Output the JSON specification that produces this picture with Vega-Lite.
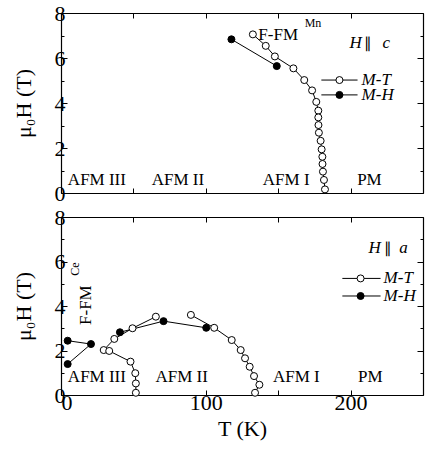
{
  "$schema": "https://vega.github.io/schema/vega-lite/v6.json",
  "padding": {"left": 12, "right": 1, "top": 2, "bottom": 2},
  "spacing": 24,
  "bounds": "flush",
  "config": {
    "font": "Liberation Serif",
    "view": {"stroke": null},
    "axis": {
      "grid": false,
      "domainColor": "black",
      "domainWidth": 1.2,
      "tickColor": "black",
      "tickWidth": 1,
      "labelColor": "black",
      "titleColor": "black",
      "labelFont": "Liberation Serif",
      "titleFont": "Liberation Serif",
      "labelFontSize": 22,
      "titleFontSize": 22,
      "titleFontWeight": "normal"
    }
  },
  "datasets": {
    "pts": [
      {"panel": "c", "series": "c_mt", "kind": "MT", "ord": 1, "T": 132.5, "H": 7.05},
      {"panel": "c", "series": "c_mt", "kind": "MT", "ord": 2, "T": 141.4, "H": 6.54},
      {"panel": "c", "series": "c_mt", "kind": "MT", "ord": 3, "T": 147.7, "H": 6.07},
      {"panel": "c", "series": "c_mt", "kind": "MT", "ord": 4, "T": 160.5, "H": 5.54},
      {"panel": "c", "series": "c_mt", "kind": "MT", "ord": 5, "T": 168.0, "H": 5.02},
      {"panel": "c", "series": "c_mt", "kind": "MT", "ord": 6, "T": 173.4, "H": 4.56},
      {"panel": "c", "series": "c_mt", "kind": "MT", "ord": 7, "T": 176.3, "H": 4.05},
      {"panel": "c", "series": "c_mt", "kind": "MT", "ord": 8, "T": 177.7, "H": 3.66},
      {"panel": "c", "series": "c_mt", "kind": "MT", "ord": 9, "T": 177.7, "H": 3.36},
      {"panel": "c", "series": "c_mt", "kind": "MT", "ord": 10, "T": 177.8, "H": 3.02},
      {"panel": "c", "series": "c_mt", "kind": "MT", "ord": 11, "T": 178.1, "H": 2.68},
      {"panel": "c", "series": "c_mt", "kind": "MT", "ord": 12, "T": 179.3, "H": 2.32},
      {"panel": "c", "series": "c_mt", "kind": "MT", "ord": 13, "T": 180.0, "H": 1.94},
      {"panel": "c", "series": "c_mt", "kind": "MT", "ord": 14, "T": 180.5, "H": 1.61},
      {"panel": "c", "series": "c_mt", "kind": "MT", "ord": 15, "T": 180.6, "H": 1.29},
      {"panel": "c", "series": "c_mt", "kind": "MT", "ord": 16, "T": 180.9, "H": 0.95},
      {"panel": "c", "series": "c_mt", "kind": "MT", "ord": 17, "T": 181.6, "H": 0.58},
      {"panel": "c", "series": "c_mt", "kind": "MT", "ord": 18, "T": 182.3, "H": 0.16},
      {"panel": "c", "series": "c_mh", "kind": "MH", "ord": 1, "T": 117.7, "H": 6.83},
      {"panel": "c", "series": "c_mh", "kind": "MH", "ord": 2, "T": 149.0, "H": 5.64},
      {"panel": "a", "series": "a_mt1", "kind": "MT", "ord": 1, "T": 65.5, "H": 3.52},
      {"panel": "a", "series": "a_mt1", "kind": "MT", "ord": 2, "T": 49.4, "H": 3.0},
      {"panel": "a", "series": "a_mt1", "kind": "MT", "ord": 3, "T": 36.8, "H": 2.52},
      {"panel": "a", "series": "a_mt1", "kind": "MT", "ord": 4, "T": 29.5, "H": 2.02},
      {"panel": "a", "series": "a_mt1", "kind": "MT", "ord": 5, "T": 33.3, "H": 1.98},
      {"panel": "a", "series": "a_mt1", "kind": "MT", "ord": 6, "T": 48.0, "H": 1.5},
      {"panel": "a", "series": "a_mt1", "kind": "MT", "ord": 7, "T": 51.3, "H": 0.98},
      {"panel": "a", "series": "a_mt1", "kind": "MT", "ord": 8, "T": 51.7, "H": 0.52},
      {"panel": "a", "series": "a_mt1", "kind": "MT", "ord": 9, "T": 51.7, "H": 0.1},
      {"panel": "a", "series": "a_mt2", "kind": "MT", "ord": 1, "T": 89.7, "H": 3.6},
      {"panel": "a", "series": "a_mt2", "kind": "MT", "ord": 2, "T": 105.8, "H": 3.02},
      {"panel": "a", "series": "a_mt2", "kind": "MT", "ord": 3, "T": 117.9, "H": 2.47},
      {"panel": "a", "series": "a_mt2", "kind": "MT", "ord": 4, "T": 124.1, "H": 2.02},
      {"panel": "a", "series": "a_mt2", "kind": "MT", "ord": 5, "T": 127.1, "H": 1.65},
      {"panel": "a", "series": "a_mt2", "kind": "MT", "ord": 6, "T": 130.3, "H": 1.27},
      {"panel": "a", "series": "a_mt2", "kind": "MT", "ord": 7, "T": 133.3, "H": 0.85},
      {"panel": "a", "series": "a_mt2", "kind": "MT", "ord": 8, "T": 137.0, "H": 0.46},
      {"panel": "a", "series": "a_mt2", "kind": "MT", "ord": 9, "T": 134.0, "H": 0.1},
      {"panel": "a", "series": "a_mh1", "kind": "MH", "ord": 1, "T": 40.7, "H": 2.82},
      {"panel": "a", "series": "a_mh1", "kind": "MH", "ord": 2, "T": 70.8, "H": 3.32},
      {"panel": "a", "series": "a_mh1", "kind": "MH", "ord": 3, "T": 100.3, "H": 3.02},
      {"panel": "a", "series": "a_mh2", "kind": "MH", "ord": 1, "T": 4.6, "H": 2.44},
      {"panel": "a", "series": "a_mh2", "kind": "MH", "ord": 2, "T": 20.7, "H": 2.29},
      {"panel": "a", "series": "a_mh2", "kind": "MH", "ord": 3, "T": 4.6, "H": 1.39}
    ],
    "leg": [
      {"panel": "c", "kind": "MT", "T": 179.8, "T2": 204.8, "Tm": 192.3, "H": 5.02, "text": "M-T", "Tt": 207.6},
      {"panel": "c", "kind": "MH", "T": 179.8, "T2": 204.8, "Tm": 192.3, "H": 4.36, "text": "M-H", "Tt": 207.6},
      {"panel": "a", "kind": "MT", "T": 194.3, "T2": 220.7, "Tm": 206.9, "H": 5.24, "text": "M-T", "Tt": 222.8},
      {"panel": "a", "kind": "MH", "T": 194.3, "T2": 220.7, "Tm": 206.9, "H": 4.45, "text": "M-H", "Tt": 222.8}
    ],
    "labels": [
      {"panel": "c", "role": "phase", "T": 24.8, "H": 0.58, "text": "AFM III"},
      {"panel": "c", "role": "phase", "T": 80.7, "H": 0.58, "text": "AFM II"},
      {"panel": "c", "role": "phase", "T": 155.5, "H": 0.58, "text": "AFM I"},
      {"panel": "c", "role": "phase", "T": 213.0, "H": 0.58, "text": "PM"},
      {"panel": "c", "role": "ffm", "T": 136.3, "H": 7.02, "text": "F-FM"},
      {"panel": "c", "role": "sup", "T": 168.3, "H": 7.56, "text": "Mn"},
      {"panel": "c", "role": "lit", "T": 203.4, "H": 6.67, "text": "H"},
      {"panel": "c", "role": "lpar", "T": 211.7, "H": 6.67, "text": "∥"},
      {"panel": "c", "role": "lit", "T": 224.6, "H": 6.67, "text": "c"},
      {"panel": "a", "role": "phase", "T": 24.8, "H": 0.82, "text": "AFM III"},
      {"panel": "a", "role": "phase", "T": 83.3, "H": 0.82, "text": "AFM II"},
      {"panel": "a", "role": "phase", "T": 162.5, "H": 0.82, "text": "AFM I"},
      {"panel": "a", "role": "phase", "T": 213.6, "H": 0.82, "text": "PM"},
      {"panel": "a", "role": "ffmr", "T": 17.2, "H": 4.04, "text": "F-FM"},
      {"panel": "a", "role": "supr", "T": 9.7, "H": 5.66, "text": "Ce"},
      {"panel": "a", "role": "lit", "T": 216.6, "H": 6.61, "text": "H"},
      {"panel": "a", "role": "lpar", "T": 225.9, "H": 6.61, "text": "∥"},
      {"panel": "a", "role": "lit", "T": 236.6, "H": 6.61, "text": "a"}
    ]
  },
  "vconcat": [
    {
      "width": 362,
      "height": 180,
      "resolve": {"axis": {"x": "independent", "y": "independent"}},
      "layer": [
        {
          "data": {"name": "pts"},
          "transform": [{"filter": "datum.panel === 'c'"}],
          "mark": {"type": "line", "color": "black", "strokeWidth": 1},
          "encoding": {
            "x": {"field": "T", "type": "quantitative", "scale": {"domain": [0, 250], "nice": false},
              "axis": {"orient": "bottom", "values": [0, 50, 100, 150, 200, 250], "labels": false, "title": null, "tickSize": -5}},
            "y": {"field": "H", "type": "quantitative", "scale": {"domain": [0, 8], "nice": false},
              "axis": {"orient": "left", "values": [0, 1, 2, 3, 4, 5, 6, 7, 8], "labelExpr": "datum.value % 2 === 0 ? datum.label : ''",
                "tickSize": {"condition": {"test": "datum.value % 2 === 0", "value": -6}, "value": -3},
                "labelPadding": 2, "title": "μ₀H (T)", "titlePadding": 19}},
            "detail": {"field": "series"},
            "order": {"field": "ord"}
          }
        },
        {
          "data": {"name": "pts"},
          "transform": [{"filter": "datum.panel === 'c'"}],
          "mark": {"type": "point", "shape": "circle", "filled": true, "size": 49, "stroke": "black", "strokeWidth": 1, "opacity": 1},
          "encoding": {
            "x": {"field": "T", "type": "quantitative",
              "axis": {"orient": "top", "values": [0, 50, 100, 150, 200, 250], "labels": false, "title": null, "tickSize": -5}},
            "y": {"field": "H", "type": "quantitative",
              "axis": {"orient": "right", "values": [0, 1, 2, 3, 4, 5, 6, 7, 8], "labels": false, "title": null,
                "tickSize": {"condition": {"test": "datum.value % 2 === 0", "value": -6}, "value": -3}}},
            "fill": {"field": "kind", "type": "nominal", "scale": {"domain": ["MT", "MH"], "range": ["white", "black"]}, "legend": null}
          }
        },
        {
          "data": {"name": "leg"},
          "transform": [{"filter": "datum.panel === 'c'"}],
          "mark": {"type": "rule", "color": "black", "strokeWidth": 1},
          "encoding": {
            "x": {"field": "T", "type": "quantitative", "axis": null},
            "x2": {"field": "T2"},
            "y": {"field": "H", "type": "quantitative", "axis": null}
          }
        },
        {
          "data": {"name": "leg"},
          "transform": [{"filter": "datum.panel === 'c'"}],
          "mark": {"type": "point", "shape": "circle", "filled": true, "size": 49, "stroke": "black", "strokeWidth": 1, "opacity": 1},
          "encoding": {
            "x": {"field": "Tm", "type": "quantitative", "axis": null},
            "y": {"field": "H", "type": "quantitative", "axis": null},
            "fill": {"field": "kind", "type": "nominal", "legend": null}
          }
        },
        {
          "data": {"name": "leg"},
          "transform": [{"filter": "datum.panel === 'c'"}],
          "mark": {"type": "text", "align": "left", "baseline": "middle", "fontSize": 17, "fontStyle": "italic", "color": "black"},
          "encoding": {
            "x": {"field": "Tt", "type": "quantitative", "axis": null},
            "y": {"field": "H", "type": "quantitative", "axis": null},
            "text": {"field": "text"}
          }
        },
        {
          "data": {"name": "labels"},
          "transform": [{"filter": "datum.panel === 'c' && datum.role === 'phase'"}],
          "mark": {"type": "text", "align": "center", "baseline": "middle", "fontSize": 17, "color": "black"},
          "encoding": {
            "x": {"field": "T", "type": "quantitative", "axis": null},
            "y": {"field": "H", "type": "quantitative", "axis": null},
            "text": {"field": "text"}
          }
        },
        {
          "data": {"name": "labels"},
          "transform": [{"filter": "datum.panel === 'c' && datum.role === 'ffm'"}],
          "mark": {"type": "text", "align": "left", "baseline": "middle", "fontSize": 17, "color": "black"},
          "encoding": {
            "x": {"field": "T", "type": "quantitative", "axis": null},
            "y": {"field": "H", "type": "quantitative", "axis": null},
            "text": {"field": "text"}
          }
        },
        {
          "data": {"name": "labels"},
          "transform": [{"filter": "datum.panel === 'c' && datum.role === 'sup'"}],
          "mark": {"type": "text", "align": "left", "baseline": "middle", "fontSize": 12, "color": "black"},
          "encoding": {
            "x": {"field": "T", "type": "quantitative", "axis": null},
            "y": {"field": "H", "type": "quantitative", "axis": null},
            "text": {"field": "text"}
          }
        },
        {
          "data": {"name": "labels"},
          "transform": [{"filter": "datum.panel === 'c' && datum.role === 'lit'"}],
          "mark": {"type": "text", "align": "center", "baseline": "middle", "fontSize": 17, "fontStyle": "italic", "color": "black"},
          "encoding": {
            "x": {"field": "T", "type": "quantitative", "axis": null},
            "y": {"field": "H", "type": "quantitative", "axis": null},
            "text": {"field": "text"}
          }
        },
        {
          "data": {"name": "labels"},
          "transform": [{"filter": "datum.panel === 'c' && datum.role === 'lpar'"}],
          "mark": {"type": "text", "align": "center", "baseline": "middle", "fontSize": 15, "color": "black"},
          "encoding": {
            "x": {"field": "T", "type": "quantitative", "axis": null},
            "y": {"field": "H", "type": "quantitative", "axis": null},
            "text": {"field": "text"}
          }
        }
      ]
    },
    {
      "width": 362,
      "height": 178,
      "resolve": {"axis": {"x": "independent", "y": "independent"}},
      "layer": [
        {
          "data": {"name": "pts"},
          "transform": [{"filter": "datum.panel === 'a'"}],
          "mark": {"type": "line", "color": "black", "strokeWidth": 1},
          "encoding": {
            "x": {"field": "T", "type": "quantitative", "scale": {"domain": [0, 250], "nice": false},
              "axis": {"orient": "bottom", "values": [0, 50, 100, 150, 200, 250], "labelExpr": "datum.value % 100 === 0 ? datum.label : ''",
                "tickSize": -5, "labelPadding": 2, "title": "T (K)", "titlePadding": 5}},
            "y": {"field": "H", "type": "quantitative", "scale": {"domain": [0, 8], "nice": false},
              "axis": {"orient": "left", "values": [0, 1, 2, 3, 4, 5, 6, 7, 8], "labelExpr": "datum.value % 2 === 0 ? datum.label : ''",
                "tickSize": {"condition": {"test": "datum.value % 2 === 0", "value": -6}, "value": -3},
                "labelPadding": 2, "title": "μ₀H (T)", "titlePadding": 19}},
            "detail": {"field": "series"},
            "order": {"field": "ord"}
          }
        },
        {
          "data": {"name": "pts"},
          "transform": [{"filter": "datum.panel === 'a'"}],
          "mark": {"type": "point", "shape": "circle", "filled": true, "size": 49, "stroke": "black", "strokeWidth": 1, "opacity": 1},
          "encoding": {
            "x": {"field": "T", "type": "quantitative",
              "axis": {"orient": "top", "values": [0, 50, 100, 150, 200, 250], "labels": false, "title": null, "tickSize": -5}},
            "y": {"field": "H", "type": "quantitative",
              "axis": {"orient": "right", "values": [0, 1, 2, 3, 4, 5, 6, 7, 8], "labels": false, "title": null,
                "tickSize": {"condition": {"test": "datum.value % 2 === 0", "value": -6}, "value": -3}}},
            "fill": {"field": "kind", "type": "nominal", "scale": {"domain": ["MT", "MH"], "range": ["white", "black"]}, "legend": null}
          }
        },
        {
          "data": {"name": "leg"},
          "transform": [{"filter": "datum.panel === 'a'"}],
          "mark": {"type": "rule", "color": "black", "strokeWidth": 1},
          "encoding": {
            "x": {"field": "T", "type": "quantitative", "axis": null},
            "x2": {"field": "T2"},
            "y": {"field": "H", "type": "quantitative", "axis": null}
          }
        },
        {
          "data": {"name": "leg"},
          "transform": [{"filter": "datum.panel === 'a'"}],
          "mark": {"type": "point", "shape": "circle", "filled": true, "size": 49, "stroke": "black", "strokeWidth": 1, "opacity": 1},
          "encoding": {
            "x": {"field": "Tm", "type": "quantitative", "axis": null},
            "y": {"field": "H", "type": "quantitative", "axis": null},
            "fill": {"field": "kind", "type": "nominal", "legend": null}
          }
        },
        {
          "data": {"name": "leg"},
          "transform": [{"filter": "datum.panel === 'a'"}],
          "mark": {"type": "text", "align": "left", "baseline": "middle", "fontSize": 17, "fontStyle": "italic", "color": "black"},
          "encoding": {
            "x": {"field": "Tt", "type": "quantitative", "axis": null},
            "y": {"field": "H", "type": "quantitative", "axis": null},
            "text": {"field": "text"}
          }
        },
        {
          "data": {"name": "labels"},
          "transform": [{"filter": "datum.panel === 'a' && datum.role === 'phase'"}],
          "mark": {"type": "text", "align": "center", "baseline": "middle", "fontSize": 17, "color": "black"},
          "encoding": {
            "x": {"field": "T", "type": "quantitative", "axis": null},
            "y": {"field": "H", "type": "quantitative", "axis": null},
            "text": {"field": "text"}
          }
        },
        {
          "data": {"name": "labels"},
          "transform": [{"filter": "datum.panel === 'a' && datum.role === 'ffmr'"}],
          "mark": {"type": "text", "align": "center", "baseline": "middle", "fontSize": 17, "angle": 270, "color": "black"},
          "encoding": {
            "x": {"field": "T", "type": "quantitative", "axis": null},
            "y": {"field": "H", "type": "quantitative", "axis": null},
            "text": {"field": "text"}
          }
        },
        {
          "data": {"name": "labels"},
          "transform": [{"filter": "datum.panel === 'a' && datum.role === 'supr'"}],
          "mark": {"type": "text", "align": "center", "baseline": "middle", "fontSize": 12, "angle": 270, "color": "black"},
          "encoding": {
            "x": {"field": "T", "type": "quantitative", "axis": null},
            "y": {"field": "H", "type": "quantitative", "axis": null},
            "text": {"field": "text"}
          }
        },
        {
          "data": {"name": "labels"},
          "transform": [{"filter": "datum.panel === 'a' && datum.role === 'lit'"}],
          "mark": {"type": "text", "align": "center", "baseline": "middle", "fontSize": 17, "fontStyle": "italic", "color": "black"},
          "encoding": {
            "x": {"field": "T", "type": "quantitative", "axis": null},
            "y": {"field": "H", "type": "quantitative", "axis": null},
            "text": {"field": "text"}
          }
        },
        {
          "data": {"name": "labels"},
          "transform": [{"filter": "datum.panel === 'a' && datum.role === 'lpar'"}],
          "mark": {"type": "text", "align": "center", "baseline": "middle", "fontSize": 15, "color": "black"},
          "encoding": {
            "x": {"field": "T", "type": "quantitative", "axis": null},
            "y": {"field": "H", "type": "quantitative", "axis": null},
            "text": {"field": "text"}
          }
        }
      ]
    }
  ]
}
